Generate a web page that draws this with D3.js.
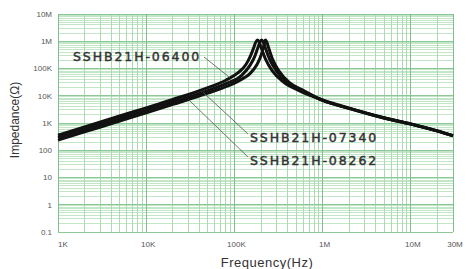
<!DOCTYPE html>
<html>
<head>
<meta charset="utf-8">
<script src="https://cdn.jsdelivr.net/npm/d3@7"></script>
<style>
  html, body { margin: 0; padding: 0; background: #fff; }
  svg { display: block; }
</style>
</head>
<body>
<div id="chart"></div>
<script>
// impedance vs frequency
const freqTicks = [1e3, 1e4, 1e5, 1e6, 1e7, 3e7];
const freqTickLabels = ['1K', '10K', '100K', '1M', '10M', '30M'];
const impTicks = [0.1, 1, 10, 100, 1e3, 1e4, 1e5, 1e6, 1e7];
const impTickLabels = ['0.1', '1', '10', '100', '1K', '10K', '100K', '1M', '10M'];

const seriesNames = ['SSHB21H-06400', 'SSHB21H-07340', 'SSHB21H-08262'];

const freq06400 = [1e3, 2e3, 5e3, 1e4, 2e4, 5e4, 8e4, 1.1e5, 1.35e5, 1.52e5, 1.66e5, 1.75e5, 1.82e5, 1.9e5, 2.02e5, 2.25e5, 2.7e5, 3.6e5, 5.4e5, 1e6, 2e6, 5e6, 1e7, 2e7, 3e7];
const imp06400 = [355, 710, 1800, 3600, 7300, 20000, 37000, 70000, 140000, 290000, 600000, 950000, 1100000, 950000, 550000, 220000, 80000, 32000, 15500, 7000, 3500, 1550, 920, 515, 345];

const freq07340 = [1e3, 2e3, 5e3, 1e4, 2e4, 5e4, 8e4, 1.2e5, 1.5e5, 1.7e5, 1.85e5, 1.95e5, 2.03e5, 2.12e5, 2.25e5, 2.5e5, 3e5, 4e5, 6e5, 1e6, 2e6, 5e6, 1e7, 2e7, 3e7];
const imp07340 = [290, 580, 1450, 2900, 5900, 15500, 28000, 55000, 130000, 280000, 600000, 950000, 1100000, 950000, 550000, 220000, 80000, 30000, 15000, 6800, 3450, 1520, 915, 510, 340];

const freq08262 = [1e3, 2e3, 5e3, 1e4, 2e4, 5e4, 8e4, 1.2e5, 1.5e5, 1.8e5, 2e5, 2.13e5, 2.19e5, 2.25e5, 2.32e5, 2.45e5, 2.7e5, 3.2e5, 4.2e5, 6.2e5, 1e6, 2e6, 5e6, 1e7, 2e7, 3e7];
const imp08262 = [235, 470, 1180, 2350, 4800, 12500, 21500, 40000, 65000, 140000, 300000, 600000, 950000, 1100000, 950000, 550000, 220000, 80000, 30000, 15000, 6700, 3400, 1500, 910, 505, 335];

// where each leader line touches its curve
const leaderFreqs = [8.9e4, 4.4e4, 3.0e4];

const width = 473;
const height = 269;

const x = d3.scaleLog().domain([1e3, 3e7]).range([58, 453]);
const y = d3.scaleLog().domain([0.1, 1e7]).range([232, 14]);

const svg = d3
  .select('#chart')
  .append('svg')
  .attr('width', width)
  .attr('height', height);

// grid lines, minor first so the decades sit on top
const vLines = [];
for (let d = 1e3; d <= 1e7; d *= 10) {
  for (let m = 1; m <= 9; m++) {
    const f = m * d;
    if (f <= 3e7) vLines.push({ v: f, major: m === 1 });
  }
}
vLines.push({ v: 3e7, major: true });

const hLines = [];
for (let d = 0.1; d < 1e7; d *= 10) {
  for (let m = 1; m <= 9; m++) hLines.push({ v: m * d, major: m === 1 });
}
hLines.push({ v: 1e7, major: true });

const grid = svg.append('g').attr('shape-rendering', 'crispEdges');

grid
  .selectAll('line.h')
  .data(hLines.filter(d => !d.major))
  .join('line')
  .attr('x1', 58)
  .attr('x2', 453)
  .attr('y1', d => y(d.v))
  .attr('y2', d => y(d.v))
  .attr('stroke', '#c4e6c8')
  .attr('stroke-width', 1);

grid
  .selectAll('line.v')
  .data(vLines.filter(d => !d.major))
  .join('line')
  .attr('x1', d => x(d.v))
  .attr('x2', d => x(d.v))
  .attr('y1', 14)
  .attr('y2', 232)
  .attr('stroke', '#add9b3')
  .attr('stroke-width', 1);

grid
  .selectAll('line.hm')
  .data(hLines.filter(d => d.major))
  .join('line')
  .attr('x1', 58)
  .attr('x2', 453)
  .attr('y1', d => y(d.v))
  .attr('y2', d => y(d.v))
  .attr('stroke', '#8cc898')
  .attr('stroke-width', 1);

grid
  .selectAll('line.vm')
  .data(vLines.filter(d => d.major))
  .join('line')
  .attr('x1', d => x(d.v))
  .attr('x2', d => x(d.v))
  .attr('y1', 14)
  .attr('y2', 232)
  .attr('stroke', '#7fbf8c')
  .attr('stroke-width', 1);

// tick labels
svg
  .append('g')
  .selectAll('text')
  .data(impTicks)
  .join('text')
  .attr('x', 52)
  .attr('y', d => y(d))
  .attr('dy', '0.35em')
  .attr('text-anchor', 'end')
  .attr('font-family', 'Liberation Sans')
  .attr('font-size', 8)
  .attr('fill', '#555')
  .text((d, i) => impTickLabels[i]);

svg
  .append('g')
  .selectAll('text')
  .data(freqTicks)
  .join('text')
  .attr('x', (d, i) => x(d) + (i === 0 ? 0 : 2))
  .attr('y', 247)
  .attr('text-anchor', (d, i) => (i === 0 ? 'start' : 'middle'))
  .attr('font-family', 'Liberation Sans')
  .attr('font-size', 8)
  .attr('fill', '#555')
  .text((d, i) => freqTickLabels[i]);

// axis titles
svg
  .append('text')
  .attr('transform', 'translate(19,120) rotate(-90)')
  .attr('text-anchor', 'middle')
  .attr('font-family', 'Liberation Sans')
  .attr('font-size', 12)
  .attr('fill', '#333')
  .text('Impedance(Ω)');

svg
  .append('text')
  .attr('x', 267)
  .attr('y', 267)
  .attr('text-anchor', 'middle')
  .attr('font-family', 'Liberation Sans')
  .attr('font-size', 13)
  .attr('letter-spacing', 0.5)
  .attr('fill', '#333')
  .text('Frequency(Hz)');

// curves
const series = [
  { name: seriesNames[0], points: freq06400.map((f, i) => [f, imp06400[i]]) },
  { name: seriesNames[1], points: freq07340.map((f, i) => [f, imp07340[i]]) },
  { name: seriesNames[2], points: freq08262.map((f, i) => [f, imp08262[i]]) },
];

const line = d3
  .line()
  .x(d => x(d[0]))
  .y(d => y(d[1]))
  .curve(d3.curveMonotoneX);

svg
  .append('g')
  .attr('fill', 'none')
  .attr('stroke', '#111')
  .attr('stroke-width', 3)
  .attr('stroke-linejoin', 'round')
  .selectAll('path')
  .data(series)
  .join('path')
  .attr('d', d => line(d.points));

// value on a curve at a frequency, interpolated in log space
function valueAt(points, f) {
  const lf = Math.log10(f);
  for (let i = 1; i < points.length; i++) {
    const a = Math.log10(points[i - 1][0]);
    const b = Math.log10(points[i][0]);
    if (lf <= b) {
      const t = (lf - a) / (b - a);
      const va = Math.log10(points[i - 1][1]);
      const vb = Math.log10(points[i][1]);
      return Math.pow(10, va + t * (vb - va));
    }
  }
  return points[points.length - 1][1];
}

// labels with leader lines
const labelSpots = [
  { tx: 73, ty: 61, lx: 204, ly: 57 },
  { tx: 250, ty: 142, lx: 248, ly: 134 },
  { tx: 250, ty: 165, lx: 248, ly: 157 },
];

const notes = svg.append('g');
series.forEach((s, i) => {
  const f = leaderFreqs[i];
  const spot = labelSpots[i];
  notes
    .append('line')
    .attr('x1', spot.lx)
    .attr('y1', spot.ly)
    .attr('x2', x(f))
    .attr('y2', y(valueAt(s.points, f)))
    .attr('stroke', '#555')
    .attr('stroke-width', 0.8);
  notes
    .append('text')
    .attr('x', spot.tx)
    .attr('y', spot.ty)
    .attr('font-family', 'DejaVu Sans')
    .attr('font-size', 12.5)
    .attr('letter-spacing', 1.9)
    .attr('fill', '#333')
    .attr('stroke', '#333')
    .attr('stroke-width', 0.45)
    .text(s.name);
});
</script>
</body>
</html>
